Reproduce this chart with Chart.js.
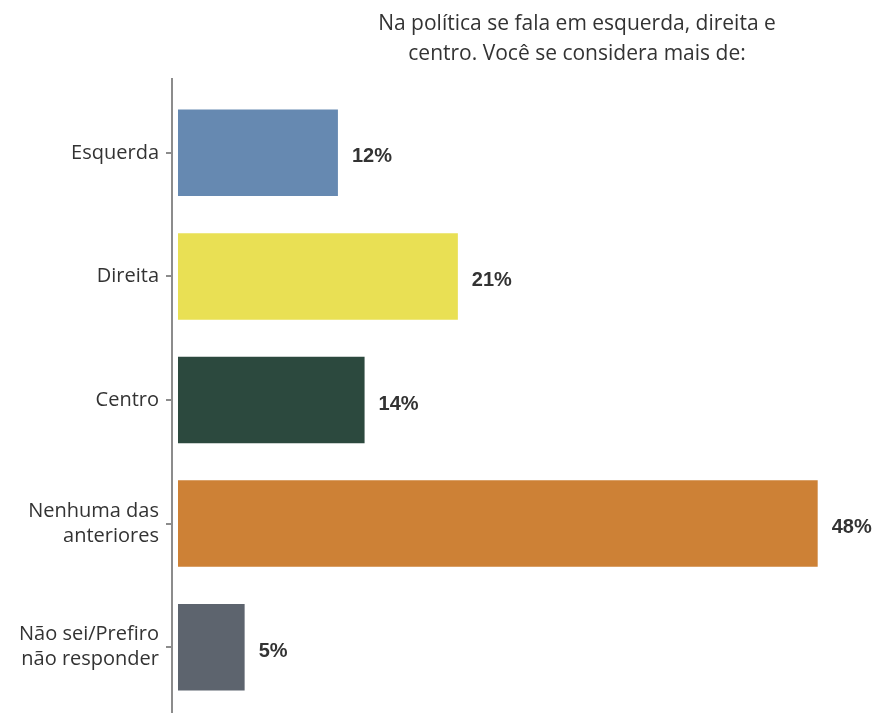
<!DOCTYPE html>
<html>
<head>
<meta charset="utf-8">
<script src="https://cdn.jsdelivr.net/npm/chart.js@4.4.1/dist/chart.umd.min.js"></script>
<style>
  html, body { margin: 0; padding: 0; background: #fff; }
  #wrap { width: 877px; height: 713px; position: relative; }
</style>
</head>
<body>
<div id="wrap"><canvas id="c" width="877" height="713"></canvas></div>
<script>
const titleLines = ["Na política se fala em esquerda, direita e", "centro. Você se considera mais de:"];
const categories = [["Esquerda"], ["Direita"], ["Centro"], ["Nenhuma das", "anteriores"], ["Não sei/Prefiro", "não responder"]];
const values = [12, 21, 14, 48, 5];
const valueLabels = ["12%", "21%", "14%", "48%", "5%"];
const barColors = ["#6689B1", "#E9E054", "#2C493E", "#CD8136", "#5D646E"];

const extras = {
  id: 'extras',
  afterDraw(chart) {
    const ctx = chart.ctx;
    const area = chart.chartArea;
    ctx.save();
    // axis line
    ctx.strokeStyle = '#8c8c8c';
    ctx.lineWidth = 2;
    ctx.beginPath();
    ctx.moveTo(area.left, area.top - 13);
    ctx.lineTo(area.left, chart.height);
    ctx.stroke();
    // title
    ctx.fillStyle = '#333333';
    ctx.font = '21px "Open Sans"';
    ctx.textAlign = 'center';
    ctx.textBaseline = 'middle';
    titleLines.forEach((t, i) => ctx.fillText(t, 577, 24 + i * 30));
    // value labels
    const meta = chart.getDatasetMeta(0);
    ctx.font = 'bold 20px "Liberation Sans"';
    ctx.textAlign = 'left';
    ctx.textBaseline = 'alphabetic';
    ctx.fillStyle = '#333333';
    meta.data.forEach((bar, i) => {
      ctx.fillText(valueLabels[i], bar.x + 14, bar.y + 9.5);
    });
    ctx.restore();
  }
};

new Chart(document.getElementById('c'), {
  type: 'bar',
  data: {
    labels: categories,
    datasets: [{
      data: values,
      backgroundColor: barColors,
      borderWidth: 0,
      barPercentage: 0.7,
      categoryPercentage: 1.0
    }]
  },
  options: {
    indexAxis: 'y',
    responsive: false,
    animation: false,
    layout: { padding: { top: 91, bottom: 4, left: 0, right: 10 } },
    plugins: { legend: { display: false }, tooltip: { enabled: false }, title: { display: false } },
    scales: {
      x: { display: false, min: -0.45, max: 51.7 },
      y: {
        afterFit(scale) { scale.width = 172; scale.paddingTop = 0; scale.paddingBottom = 0; },
        border: { display: false },
        grid: { offset: false, drawOnChartArea: false, drawTicks: true, tickLength: 6, color: '#8c8c8c', lineWidth: 2 },
        ticks: { color: '#333333', font: { family: '"Open Sans"', size: 20, lineHeight: 1.25 }, padding: 7 }
      }
    }
  },
  plugins: [extras]
});
</script>
</body>
</html>
